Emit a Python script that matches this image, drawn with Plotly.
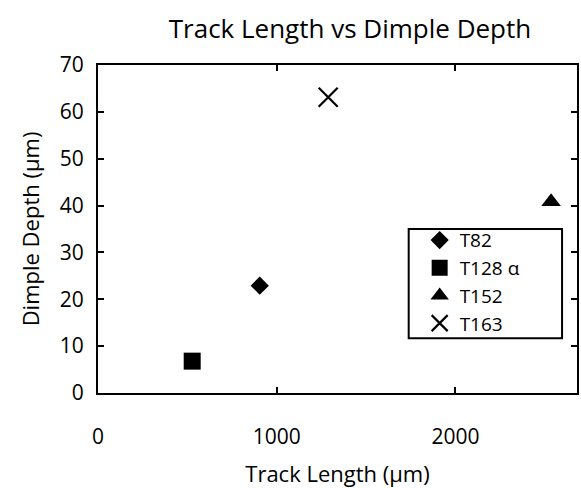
import plotly.graph_objects as go

# Data
names = ["T82", "T128 α", "T152", "T163"]
track_length = [905, 527, 2535, 1288]   # µm
dimple_depth = [22.9, 6.8, 40.8, 63.1]  # µm
symbols = ["diamond", "square", "triangle-up", "x-thin"]
sizes = [14, 17, 17, 19]

x_ticks = [0, 1000, 2000]
y_ticks = [0, 10, 20, 30, 40, 50, 60, 70]

FONT = "Open Sans"

# plot area in pixels (for placing the legend frame)
L, R, T, B = 98, 579, 65, 395
def px_x(p): return (p - L) / (R - L)
def px_y(p): return (B - p) / (B - T)

fig = go.Figure()
for n, xv, yv, s, sz in zip(names, track_length, dimple_depth, symbols, sizes):
    fig.add_trace(go.Scatter(
        x=[xv], y=[yv], mode="markers", name=n,
        marker=dict(symbol=s, size=sz, color="black",
                    line=dict(color="black", width=2.2 if s == "x-thin" else 0)),
    ))

axis_common = dict(
    showgrid=False, zeroline=False, showline=True, linecolor="black", linewidth=2,
    mirror="ticks", ticks="inside", ticklen=6, tickwidth=2, tickcolor="black",
    tickfont=dict(family=FONT, size=21, color="black"),
)

# legend frame
fig.add_shape(type="rect", xref="paper", yref="paper",
              x0=px_x(410), x1=px_x(564), y0=px_y(340), y1=px_y(230),
              line=dict(color="black", width=2), fillcolor="white", layer="below")

fig.update_layout(
    width=581, height=488,
    margin=dict(l=L, r=581 - R, t=T, b=488 - B),
    paper_bgcolor="white", plot_bgcolor="white",
    font=dict(family=FONT, color="black"),
    title=dict(text="Track Length vs Dimple Depth", x=350 / 581, xanchor="center",
               y=1 - 29 / 488, yanchor="middle", yref="container",
               font=dict(family=FONT, size=26, color="black")),
    xaxis=dict(range=[0, 2680], tickvals=x_ticks, ticklabelstandoff=24,
               title=dict(text="Track Length (µm)", font=dict(family=FONT, size=22), standoff=20),
               **axis_common),
    yaxis=dict(range=[0, 70], tickvals=y_ticks, ticklabelstandoff=8,
               title=dict(text="Dimple Depth (µm)", font=dict(family=FONT, size=22), standoff=14),
               **axis_common),
    legend=dict(x=px_x(421), y=px_y(283), xanchor="left", yanchor="middle",
                borderwidth=0, bgcolor="rgba(0,0,0,0)",
                font=dict(family=FONT, size=19, color="black"),
                itemwidth=30, tracegroupgap=0),
    showlegend=True,
)

fig.write_html("out.html")
